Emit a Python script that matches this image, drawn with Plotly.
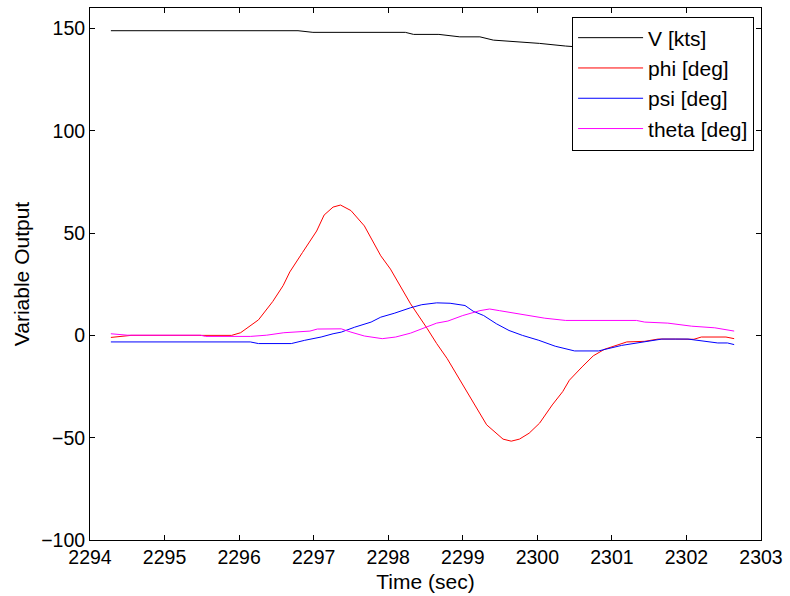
import plotly.graph_objects as go

# Flight record: airspeed and attitude angles over a roll manoeuvre
v_time = [2294.28, 2296.79, 2296.99, 2298.23, 2298.34, 2298.68, 2298.96, 2299.23,
          2299.41, 2299.61, 2299.85, 2300.03, 2300.38, 2300.9, 2301.5, 2302.1, 2302.64]
v_kts = [148.9, 148.9, 148.1, 148.1, 147.1, 147.1, 145.9, 145.9,
         144.3, 143.8, 143.0, 142.7, 141.4, 140.0, 138.5, 137.0, 135.5]

phi_time = [2294.28, 2294.55, 2295.9, 2296.02, 2296.26, 2296.45, 2296.59, 2296.68,
            2296.85, 2297.04, 2297.14, 2297.26, 2297.36, 2297.5, 2297.68, 2297.9,
            2298.03, 2298.3, 2298.52, 2298.65, 2298.79, 2299.0, 2299.18, 2299.32,
            2299.54, 2299.65, 2299.76, 2299.89, 2300.03, 2300.2, 2300.34, 2300.43,
            2300.6, 2300.75, 2300.9, 2301.2, 2301.44, 2301.62, 2301.85, 2302.1,
            2302.2, 2302.53, 2302.64]
phi_deg = [-1.0, 0.0, 0.0, 1.3, 7.6, 16.5, 24.3, 31.0,
           40.5, 51.0, 58.8, 62.7, 63.7, 61.0, 53.5, 38.9,
           32.4, 15.4, 3.5, -4.0, -11.3, -24.3, -34.8, -43.7,
           -50.7, -51.7, -50.7, -47.8, -42.9, -34.0, -27.5, -21.9,
           -15.4, -10.0, -6.8, -3.2, -2.9, -1.8, -1.8, -1.9,
           -0.8, -0.8, -1.6]

psi_time = [2294.28, 2296.15, 2296.26, 2296.7, 2296.88, 2297.1, 2297.26, 2297.37,
            2297.55, 2297.77, 2297.9, 2298.08, 2298.3, 2298.45, 2298.65, 2298.83,
            2299.03, 2299.14, 2299.28, 2299.45, 2299.62, 2299.8, 2300.02, 2300.24,
            2300.5, 2300.82, 2301.13, 2301.36, 2301.67, 2302.02, 2302.2, 2302.42,
            2302.55, 2302.64]
psi_deg = [-3.2, -3.2, -4.0, -4.0, -2.4, -0.8, 0.8, 1.6,
           4.0, 6.5, 8.9, 10.8, 13.5, 15.0, 15.9, 15.7,
           14.6, 11.8, 9.7, 5.7, 2.4, 0.0, -2.4, -5.3,
           -7.6, -7.6, -4.9, -3.7, -1.8, -1.8, -2.6, -3.7,
           -3.7, -4.5]

theta_time = [2294.28, 2294.5, 2295.48, 2295.55, 2296.15, 2296.37, 2296.6, 2296.95,
              2297.05, 2297.37, 2297.5, 2297.68, 2297.92, 2298.1, 2298.3, 2298.52,
              2298.65, 2298.8, 2299.0, 2299.23, 2299.36, 2299.49, 2299.72, 2300.1,
              2300.38, 2301.33, 2301.44, 2301.75, 2302.07, 2302.38, 2302.64]
theta_deg = [0.8, 0.1, 0.1, -0.5, -0.5, 0.1, 1.3, 2.1,
             3.1, 3.2, 1.6, -0.3, -1.6, -0.8, 1.1, 4.0,
             6.0, 7.0, 9.7, 12.1, 12.9, 12.1, 10.8, 8.4,
             7.3, 7.3, 6.5, 6.0, 4.5, 3.7, 2.1]

x_ticks = [2294, 2295, 2296, 2297, 2298, 2299, 2300, 2301, 2302, 2303]
y_ticks = [-100, -50, 0, 50, 100, 150]

series = [
    ("V [kts]", v_time, v_kts, "#000000"),
    ("phi [deg]", phi_time, phi_deg, "#ff0000"),
    ("psi [deg]", psi_time, psi_deg, "#0000ff"),
    ("theta [deg]", theta_time, theta_deg, "#ff00ff"),
]

FONT = "Liberation Sans, Arial, sans-serif"

fig = go.Figure()
for name, t, y, color in series:
    fig.add_trace(go.Scatter(x=t, y=y, name=name, mode="lines",
                             line=dict(color=color, width=1)))

axis_common = dict(
    showline=True, linecolor="black", linewidth=1, mirror="ticks",
    ticks="inside", ticklen=5, tickcolor="black", tickwidth=1,
    showgrid=False, zeroline=False,
    tickfont=dict(family=FONT, size=19.5, color="black"),
)

fig.update_layout(
    width=790, height=596,
    margin=dict(l=90, r=23, t=7, b=55),
    paper_bgcolor="white", plot_bgcolor="white",
    font=dict(family=FONT, size=21, color="black"),
    xaxis=dict(range=[2294, 2303], tickvals=x_ticks,
               title=dict(text="Time (sec)", standoff=6,
                          font=dict(family=FONT, size=21)),
               **axis_common),
    yaxis=dict(range=[-100, 160], tickvals=y_ticks,
               title=dict(text="Variable Output", standoff=5,
                          font=dict(family=FONT, size=21)),
               **axis_common),
    legend=dict(x=0.9897, y=0.984, xanchor="right", yanchor="top",
                bgcolor="white", bordercolor="black", borderwidth=1,
                font=dict(family=FONT, size=21, color="black"),
                itemwidth=65, tracegroupgap=0),
    showlegend=True,
)

fig.write_html("out.html")
